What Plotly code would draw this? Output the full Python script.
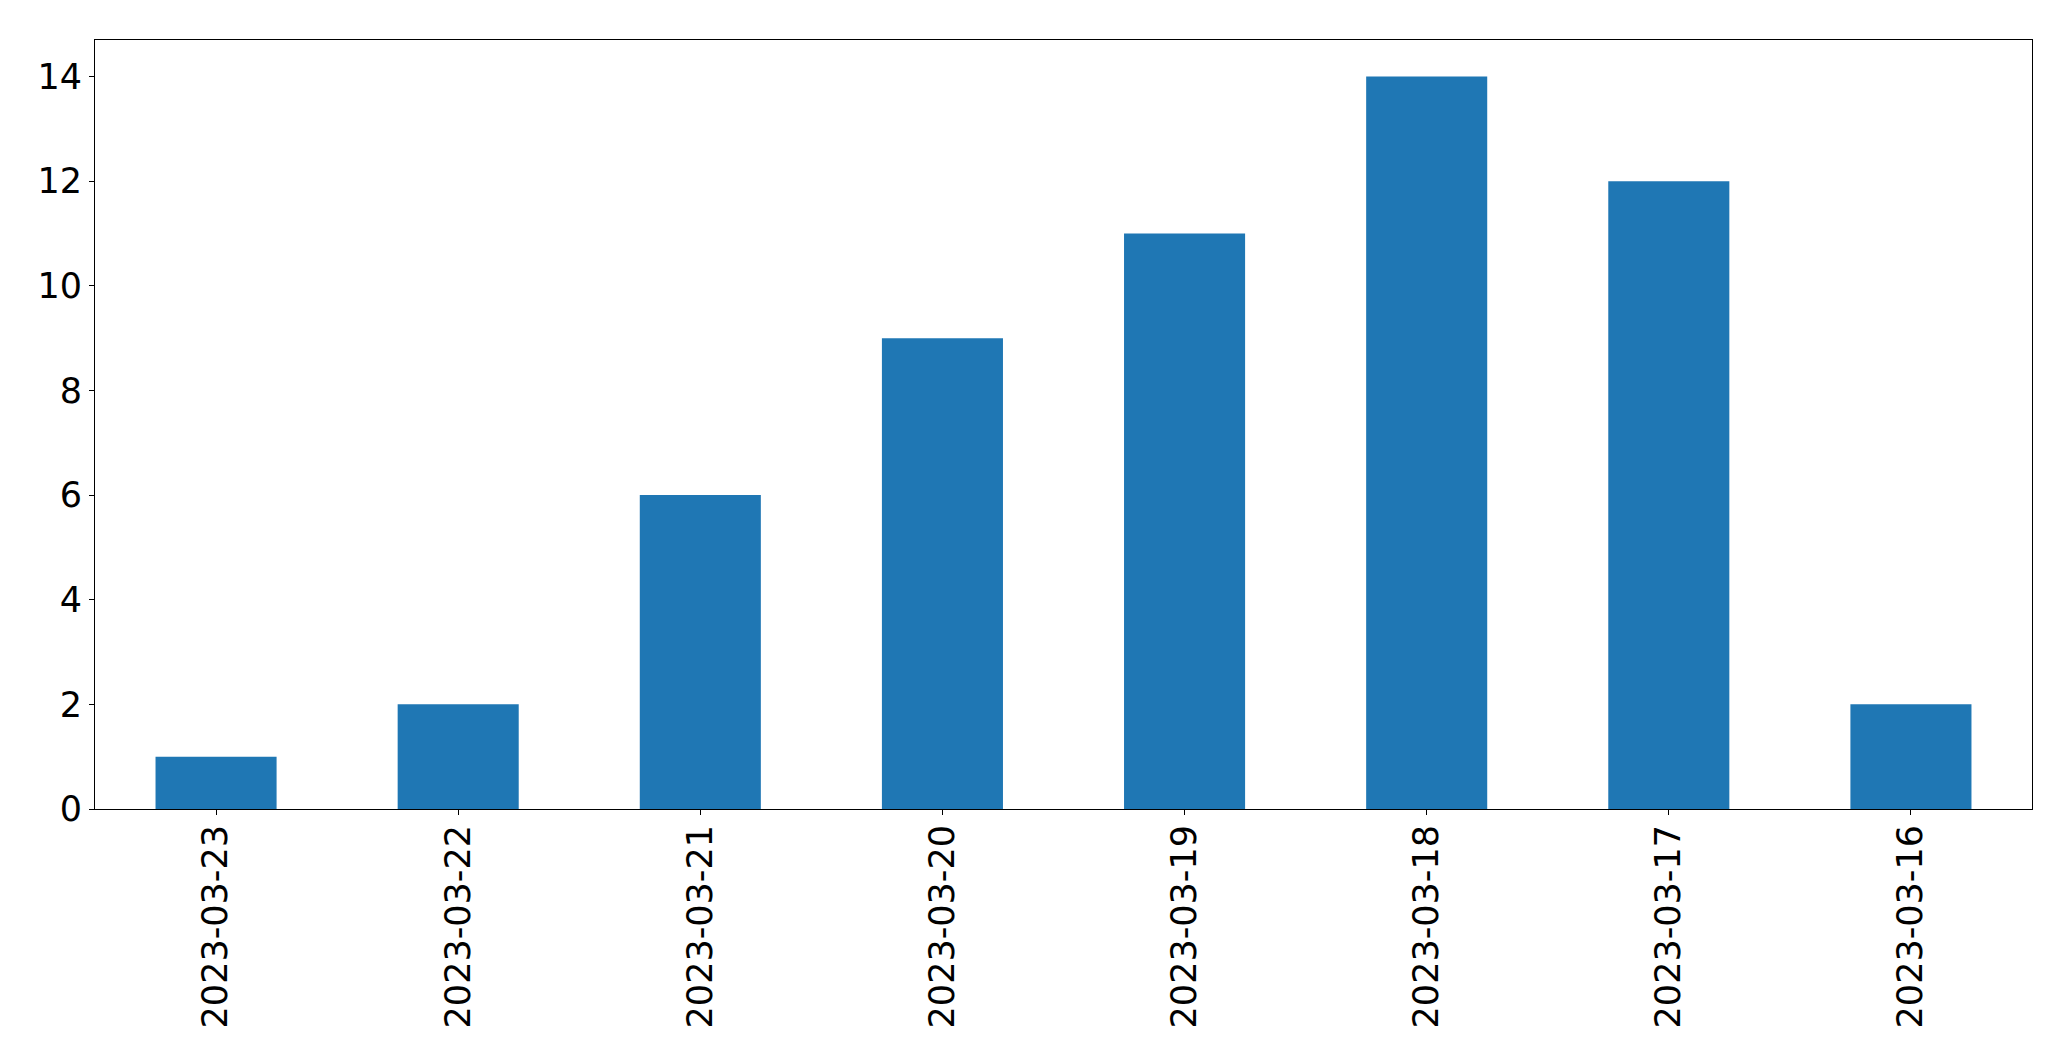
import plotly.graph_objects as go

dates = ["2023-03-23", "2023-03-22", "2023-03-21", "2023-03-20",
         "2023-03-19", "2023-03-18", "2023-03-17", "2023-03-16"]
counts = [1, 2, 6, 9, 11, 14, 12, 2]
y_ticks = [0, 2, 4, 6, 8, 10, 12, 14]

fig = go.Figure(go.Bar(x=dates, y=counts, marker_color="#1f77b4",
                       marker_line_width=0, width=0.5))

axis_common = dict(showline=True, linecolor="black", linewidth=1, mirror=True,
                   ticks="outside", ticklen=5, tickwidth=1, tickcolor="black",
                   showgrid=False, zeroline=False,
                   tickfont=dict(family="DejaVu Sans", size=35, color="black"))

fig.update_layout(
    width=2063, height=1053,
    margin=dict(l=87, r=39, t=32, b=252),
    paper_bgcolor="white", plot_bgcolor="white",
    showlegend=False,
    bargap=0.5,
    xaxis=dict(type="category", range=[-0.5, 7.5], tickangle=-90,
               ticklabelstandoff=-4, **axis_common),
    yaxis=dict(range=[0, 14.7], tickvals=y_ticks, **axis_common),
)

fig.write_html("out.html")
